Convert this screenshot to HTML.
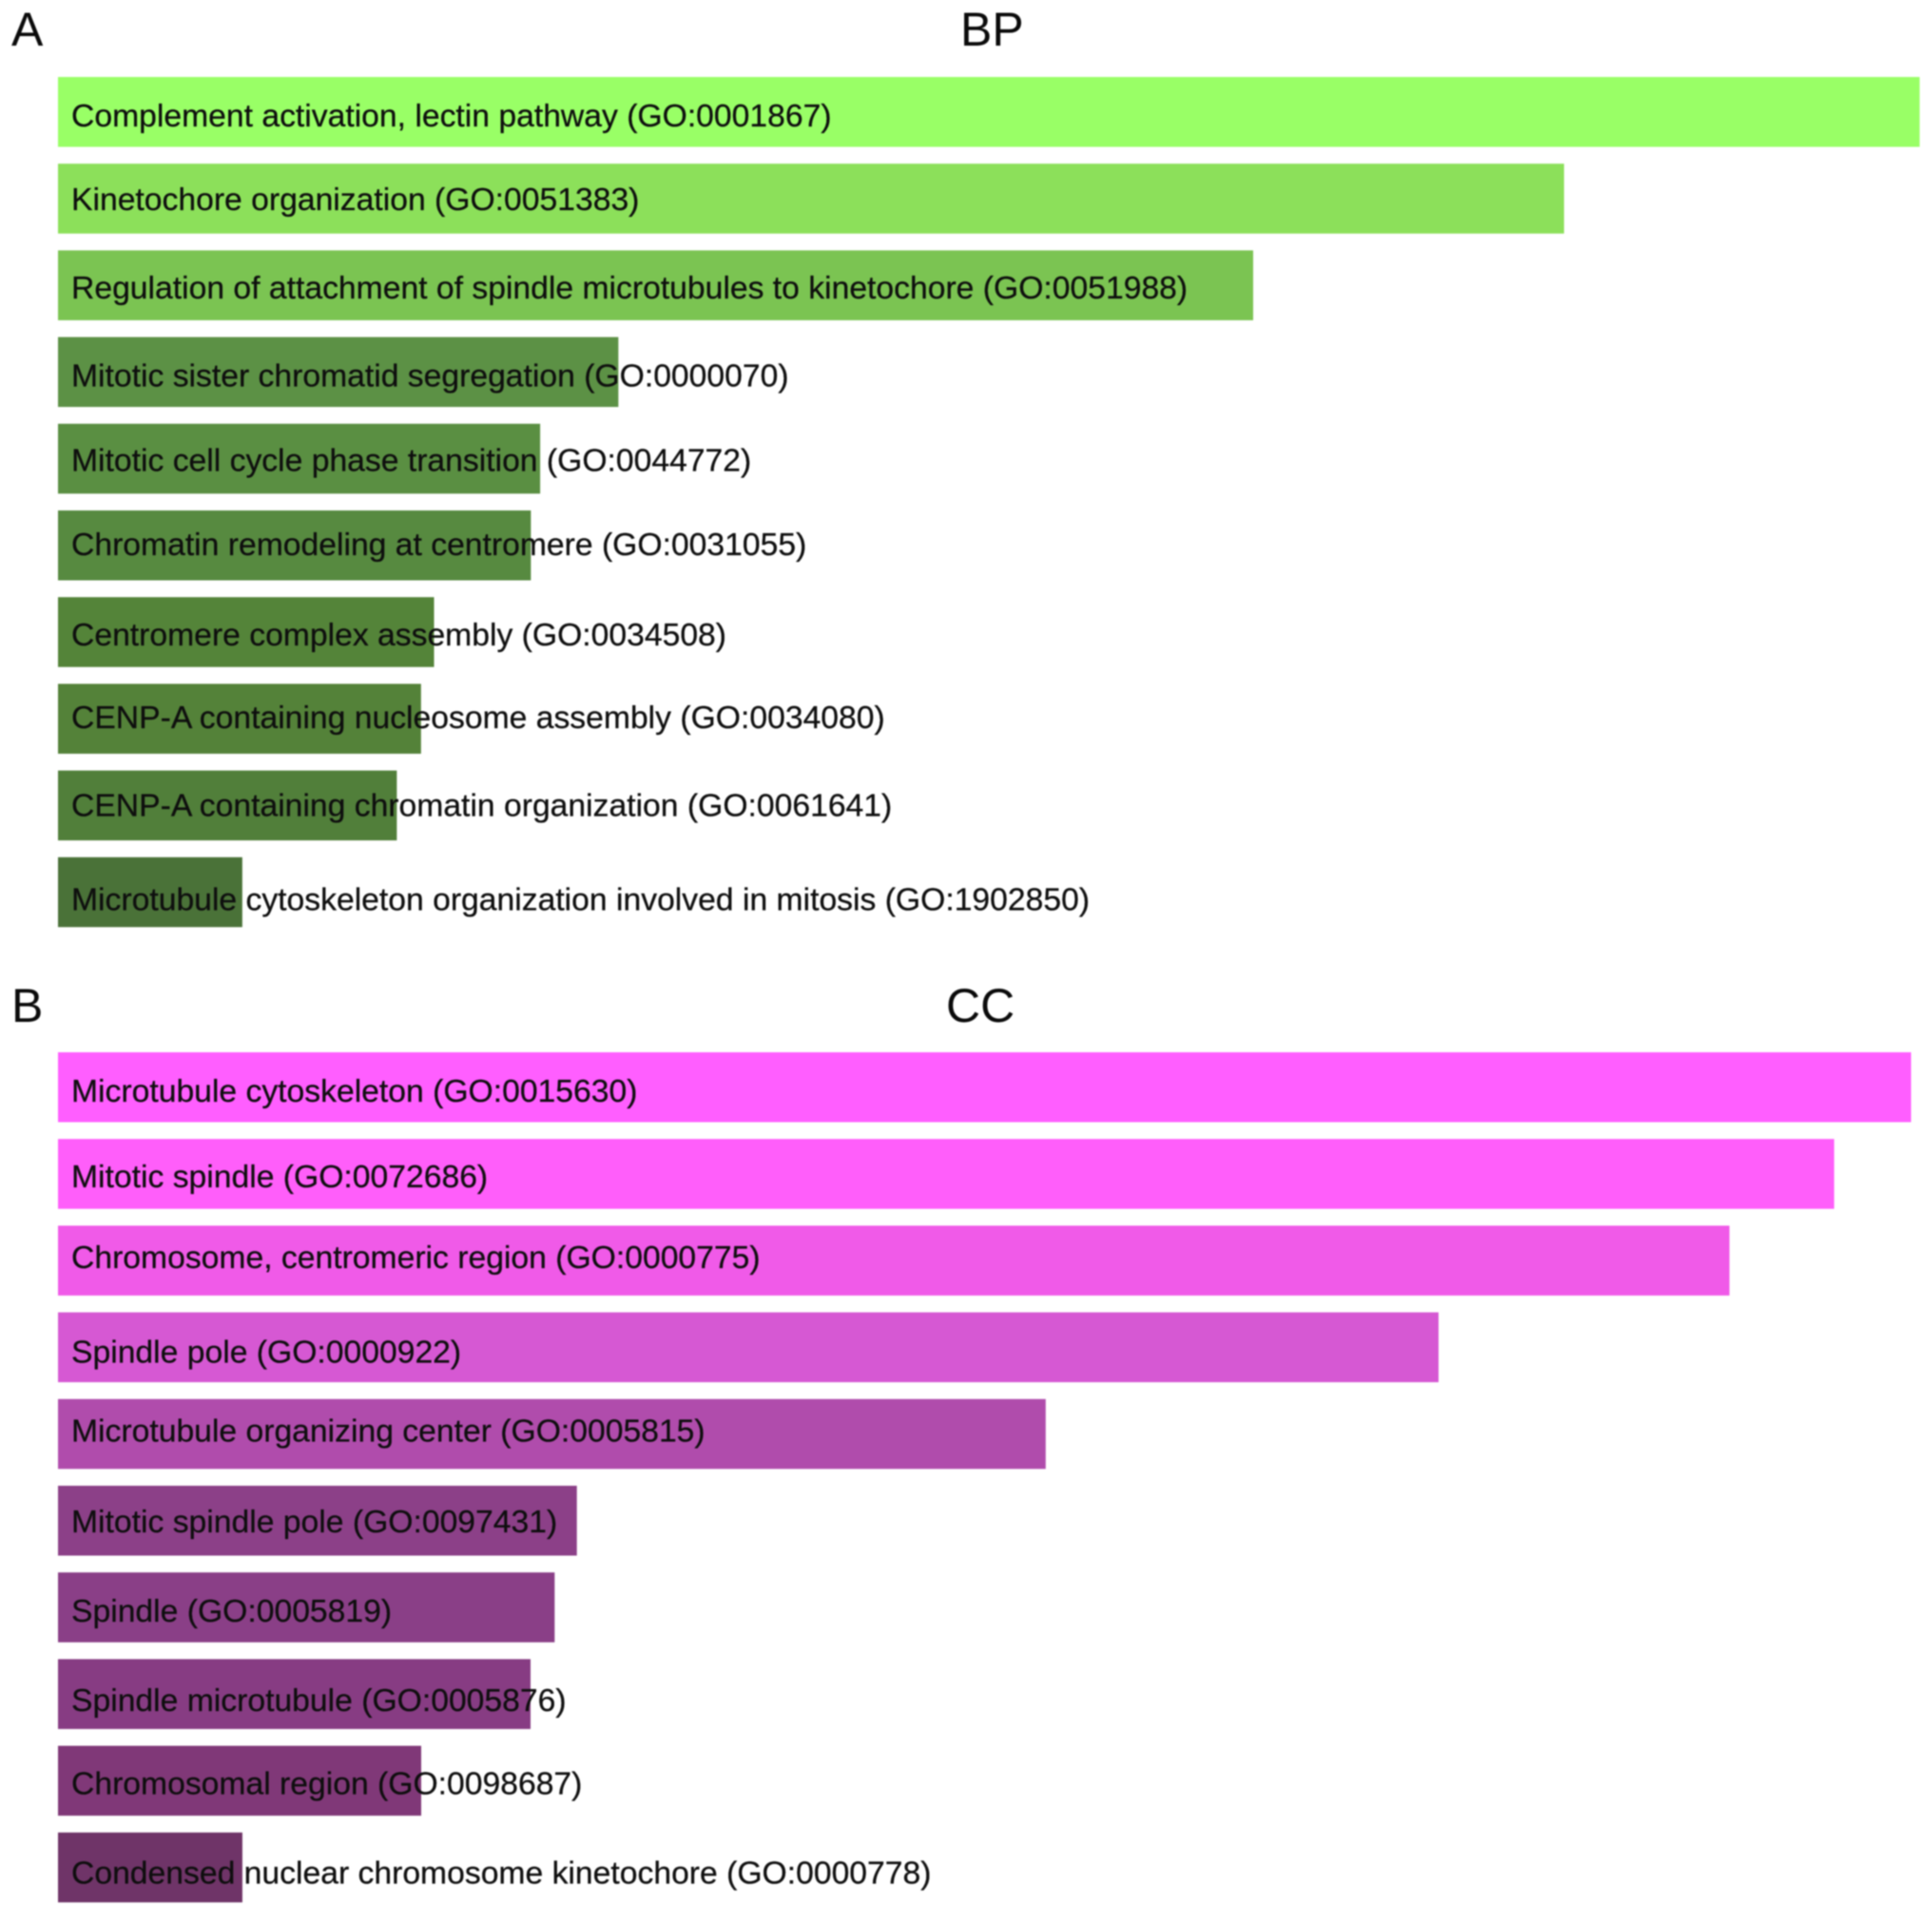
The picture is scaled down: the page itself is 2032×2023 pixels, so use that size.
<!DOCTYPE html>
<html lang="en">
<head>
<meta charset="utf-8">
<title>GO enrichment: BP and CC</title>
<style>
  html, body { margin: 0; padding: 0; background: #fff; }
  svg { display: block; filter: blur(0.7px); }
  text { font-family: "Liberation Sans", Arial, sans-serif; fill: #0e0e0e; }
  .bar-label { font-size: 33.7px; stroke: #0e0e0e; stroke-width: 0.25px; }
  .heading { font-size: 50px; fill: #0a0a0a; }
</style>
</head>
<body>
<svg id="chart" xmlns="http://www.w3.org/2000/svg" width="2032" height="2023" viewBox="0 0 2032 2023">
  <rect x="0" y="0" width="2032" height="2023" fill="#ffffff"/>
  <text class="heading" x="12" y="48">A</text>
  <text class="heading" x="1010" y="48">BP</text>
  <text class="heading" x="12" y="1075">B</text>
  <text class="heading" x="995" y="1075">CC</text>
  <g id="bp-panel"></g>
  <g id="cc-panel"></g>
</svg>
<script>
const bpCategories = [
  "Complement activation, lectin pathway (GO:0001867)",
  "Kinetochore organization (GO:0051383)",
  "Regulation of attachment of spindle microtubules to kinetochore (GO:0051988)",
  "Mitotic sister chromatid segregation (GO:0000070)",
  "Mitotic cell cycle phase transition (GO:0044772)",
  "Chromatin remodeling at centromere (GO:0031055)",
  "Centromere complex assembly (GO:0034508)",
  "CENP-A containing nucleosome assembly (GO:0034080)",
  "CENP-A containing chromatin organization (GO:0061641)",
  "Microtubule cytoskeleton organization involved in mitosis (GO:1902850)"
];
const bpValues = [100, 80.9, 64.2, 30.1, 25.9, 25.4, 20.2, 19.5, 18.2, 9.9];

const ccCategories = [
  "Microtubule cytoskeleton (GO:0015630)",
  "Mitotic spindle (GO:0072686)",
  "Chromosome, centromeric region (GO:0000775)",
  "Spindle pole (GO:0000922)",
  "Microtubule organizing center (GO:0005815)",
  "Mitotic spindle pole (GO:0097431)",
  "Spindle (GO:0005819)",
  "Spindle microtubule (GO:0005876)",
  "Chromosomal region (GO:0098687)",
  "Condensed nuclear chromosome kinetochore (GO:0000778)"
];
const ccValues = [100, 95.85, 90.2, 74.5, 53.3, 28, 26.8, 25.5, 19.6, 9.95];

const bpColors = ["#99ff66", "#8ce05a", "#7bc452", "#5c9145", "#5a8f42", "#578a40", "#548439", "#548239", "#517f3a", "#4a7238"];
const ccColors = ["#ff5eff", "#ff5efa", "#f05ae8", "#d658d3", "#b04cac", "#8c4088", "#8a3f87", "#873c83", "#803878", "#6f3468"];
const bpLabelNudge = [3, 0, 2, 3, 1, -2, 2, -2, -1, 7];
const ccLabelNudge = [3, 2, -4, 4, -4, 0, 3, 6, 2, 5];

const SVG_NS = "http://www.w3.org/2000/svg";
const VALUE_MAX = 100;
const BAR_LEFT = 61;
const ROW_STEP = 91.2;
const BAR_HEIGHT = 73.5;
const LABEL_X = 75;
const LABEL_DROP = 12;

function xScale(value, right) {
  return BAR_LEFT + (value / VALUE_MAX) * (right - BAR_LEFT);
}
function yScale(index, top) {
  return top + index * ROW_STEP;
}

function drawPanel(groupId, prefix, categories, values, colors, nudges, top, right) {
  const group = document.getElementById(groupId);
  values.forEach(function (value, i) {
    const bar = document.createElementNS(SVG_NS, "rect");
    
    
    bar.setAttribute("x", BAR_LEFT);
    bar.setAttribute("y", yScale(i, top));
    bar.setAttribute("width", xScale(value, right) - BAR_LEFT);
    bar.setAttribute("height", BAR_HEIGHT);
    bar.setAttribute("fill", colors[i]);
    group.appendChild(bar);
  });
  categories.forEach(function (name, i) {
    const label = document.createElementNS(SVG_NS, "text");
    
    
    label.setAttribute("class", "bar-label");
    label.setAttribute("x", LABEL_X);
    label.setAttribute("y", yScale(i, top) + BAR_HEIGHT / 2 + LABEL_DROP + nudges[i]);
    label.textContent = name;
    group.appendChild(label);
  });
}

drawPanel("bp-panel", "bp", bpCategories, bpValues, bpColors, bpLabelNudge, 81, 2019);
drawPanel("cc-panel", "cc", ccCategories, ccValues, ccColors, ccLabelNudge, 1107, 2010);
</script>
</body>
</html>
